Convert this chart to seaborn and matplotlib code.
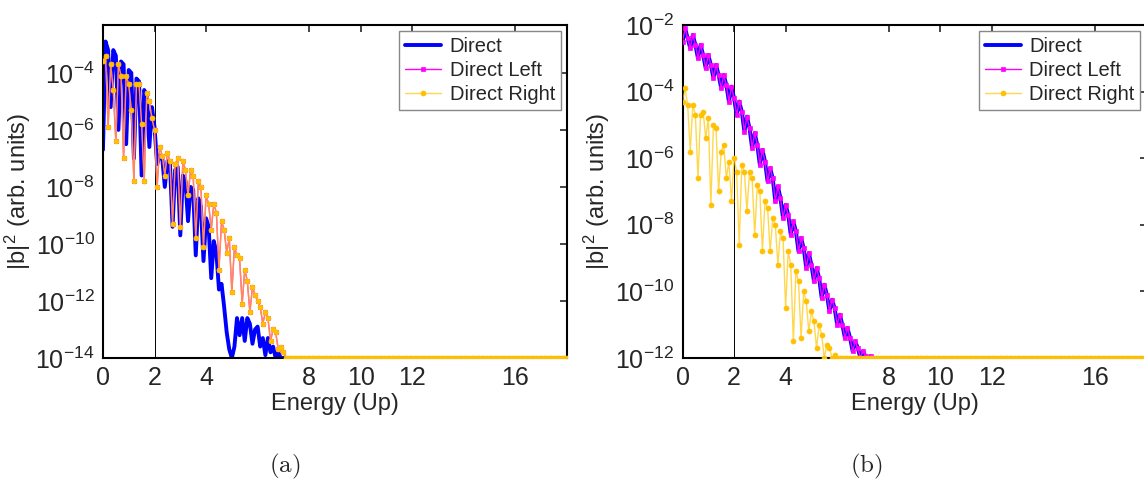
import numpy as np
import matplotlib
matplotlib.use("Agg")
import matplotlib.pyplot as plt
import seaborn as sns
from matplotlib.ticker import FixedLocator, NullLocator

# energy grid (Up), step 0.1
energy = np.round(np.arange(0, 18.01, 0.1), 1)
n_real = 76  # points 0.0 .. 7.5, beyond that everything sits on the floor

# log10 |b|^2, E = 0.0 .. 7.5
a_direct = [-6.7, -2.9, -3.2, -5.2, -3.2, -3.4, -6.0, -3.6, -3.7, -6.5,
            -3.9, -4.0, -7.0, -4.2, -4.3, -7.6, -4.6, -4.8, -6.6, -5.2,
            -5.9, -7.2, -6.9, -7.0, -8.0, -7.1, -7.2, -9.4, -7.4, -7.3,
            -9.7, -7.6, -7.8, -9.2, -8.0, -8.1, -10.4, -8.4, -8.7, -10.6,
            -9.1, -9.4, -11.2, -9.9, -10.3, -11.6, -11.4, -12.2, -13.1, -13.7,
            -14.0, -13.6, -12.6, -13.2, -12.6, -13.4, -12.6, -12.8, -13.5, -13.0,
            -12.9, -13.6, -13.3, -13.9, -13.3, -13.8, -13.6, -14.0, -13.8, -14.0,
            -14.0, -14.0, -14.0, -14.0, -14.0, -14.0]
a_right = [-3.6, -3.4, -5.9, -3.7, -4.6, -6.4, -3.7, -4.1, -7.0, -4.1,
           -4.4, -5.3, -7.8, -4.4, -4.4, -5.8, -7.8, -4.7, -5.0, -5.6,
           -6.0, -8.0, -6.6, -6.9, -7.6, -6.8, -7.1, -9.3, -7.2, -7.0,
           -9.4, -7.1, -7.4, -8.3, -7.4, -7.6, -9.8, -7.8, -8.0, -10.1,
           -8.3, -8.6, -9.5, -8.6, -8.9, -10.9, -9.2, -9.5, -10.3, -9.8,
           -11.7, -10.1, -10.4, -10.5, -12.1, -10.9, -11.3, -12.4, -11.5, -11.8,
           -12.0, -12.2, -12.8, -12.4, -12.6, -13.4, -13.0, -13.1, -13.7, -13.6,
           -13.8, -14.0, -14.0, -14.0, -14.0, -14.0]
a_left = a_right  # left and right coincide in (a)
a_floor = -14.0

# log10 |b|^2, E = 0.0 .. 7.5
b_direct = [-2.5, -2.1, -2.4, -2.7, -2.3, -2.6, -3.0, -2.6, -2.9, -3.3,
            -2.9, -3.2, -3.6, -3.2, -3.5, -3.9, -3.5, -3.8, -4.3, -3.85,
            -4.2, -4.7, -4.3, -4.6, -5.2, -4.75, -5.1, -5.7, -5.25, -5.6,
            -6.2, -5.75, -6.1, -6.7, -6.3, -6.6, -7.3, -6.85, -7.2, -7.8,
            -7.4, -7.7, -8.3, -7.9, -8.2, -8.8, -8.4, -8.7, -9.3, -8.85,
            -9.2, -9.7, -9.3, -9.6, -10.2, -9.8, -10.1, -10.6, -10.25, -10.5,
            -11.0, -10.7, -11.0, -11.4, -11.1, -11.4, -11.8, -11.5, -11.7, -12.0,
            -11.8, -11.95, -12.0, -11.95, -12.0, -12.0]
b_left = b_direct  # left lies on top of direct in (b)
b_right = [-4.3, -3.9, -4.4, -5.8, -4.4, -4.7, -6.6, -4.7, -4.6, -5.4,
           -4.8, -7.4, -5.0, -5.1, -7.0, -5.8, -5.6, -6.6, -6.1, -7.3,
           -6.0, -6.4, -8.6, -6.2, -6.4, -7.6, -6.4, -6.6, -8.3, -6.8,
           -7.0, -8.8, -7.3, -7.5, -8.8, -7.8, -8.0, -9.2, -8.2, -8.4,
           -10.5, -8.8, -9.2, -11.5, -9.4, -9.7, -11.4, -10.0, -10.3, -11.2,
           -10.6, -10.9, -11.7, -11.0, -11.3, -12.0, -11.6, -11.7, -12.0, -11.9,
           -12.0, -12.0, -12.0, -12.0, -12.0, -12.0, -12.0, -12.0, -12.0, -12.0,
           -12.0, -12.0, -12.0, -12.0, -12.0, -12.0]
b_floor = -12.0

x_ticks = [0, 2, 4, 8, 10, 12, 16]
a_yticks = [1e-14, 1e-12, 1e-10, 1e-8, 1e-6, 1e-4]
b_yticks = [1e-12, 1e-10, 1e-8, 1e-6, 1e-4, 1e-2]

blue = "#0000FF"
magenta = "#FF00FF"
gold = "#FFC000"

sns.set_style("white")
plt.rcParams["font.family"] = ["Liberation Sans", "DejaVu Sans"]
plt.rcParams["axes.unicode_minus"] = False
plt.rcParams["mathtext.fontset"] = "cm"


def full(vals, floor):
    # pad the tail (E > 7.5) with the floor value the curves rest on
    return 10.0 ** np.array(list(vals) + [floor] * (len(energy) - n_real))


fig = plt.figure(figsize=(11.44, 4.87), dpi=100)
ax_a = fig.add_axes([0.0900, 0.2649, 0.4056, 0.6838])
ax_b = fig.add_axes([0.5966, 0.2649, 0.4056, 0.6838])

panels = [
    (ax_a, a_direct, a_left, a_right, a_floor, a_yticks, (1e-14, 10 ** -2.32)),
    (ax_b, b_direct, b_left, b_right, b_floor, b_yticks, (1e-12, 1e-2)),
]

for ax, d, l, r, fl, yt, ylim in panels:
    ax.axvline(2, color="k", lw=0.7, zorder=1)
    sns.lineplot(x=energy, y=full(d, fl), ax=ax, color=blue, lw=2.8,
                 label="Direct", zorder=2)
    sns.lineplot(x=energy, y=full(l, fl), ax=ax, color=magenta, lw=1.0,
                 marker="s", markersize=3, markerfacecolor=magenta,
                 markeredgecolor=magenta, markeredgewidth=0.5,
                 label="Direct Left", zorder=3)
    sns.lineplot(x=energy, y=full(r, fl), ax=ax, color=(1.0, 0.78, 0.0, 0.7),
                 lw=1.0, marker="o", markersize=3.6, markerfacecolor=gold,
                 markeredgecolor=gold, markeredgewidth=0.5,
                 label="Direct Right", zorder=4)
    ax.set_yscale("log")
    ax.set_xlim(0, 18)
    ax.set_ylim(*ylim)
    ax.xaxis.set_major_locator(FixedLocator(x_ticks))
    ax.yaxis.set_major_locator(FixedLocator(yt))
    ax.yaxis.set_minor_locator(NullLocator())
    ax.tick_params(direction="in", length=5, width=1.2, top=True, right=True,
                   labelsize=18, pad=6)
    for s in ax.spines.values():
        s.set_linewidth(1.5)
        s.set_color("k")
    ax.set_xlabel("Energy (Up)", fontsize=17, labelpad=2)
    ax.set_ylabel(r"|b|$^{\mathdefault{2}}$ (arb. units)", fontsize=17, labelpad=2)
    leg = ax.legend(loc="upper right", fontsize=14.5, frameon=True, fancybox=False,
                    framealpha=1, edgecolor="#888888", borderaxespad=0.3,
                    handlelength=1.8, handletextpad=0.4, labelspacing=0.25,
                    borderpad=0.3)
    leg.get_frame().set_linewidth(1.0)

fig.text(0.249, 0.043, r"$\mathrm{(a)}$", ha="center", va="center", fontsize=18)
fig.text(0.757, 0.043, r"$\mathrm{(b)}$", ha="center", va="center", fontsize=18)

fig.savefig("out.png", dpi=100)
